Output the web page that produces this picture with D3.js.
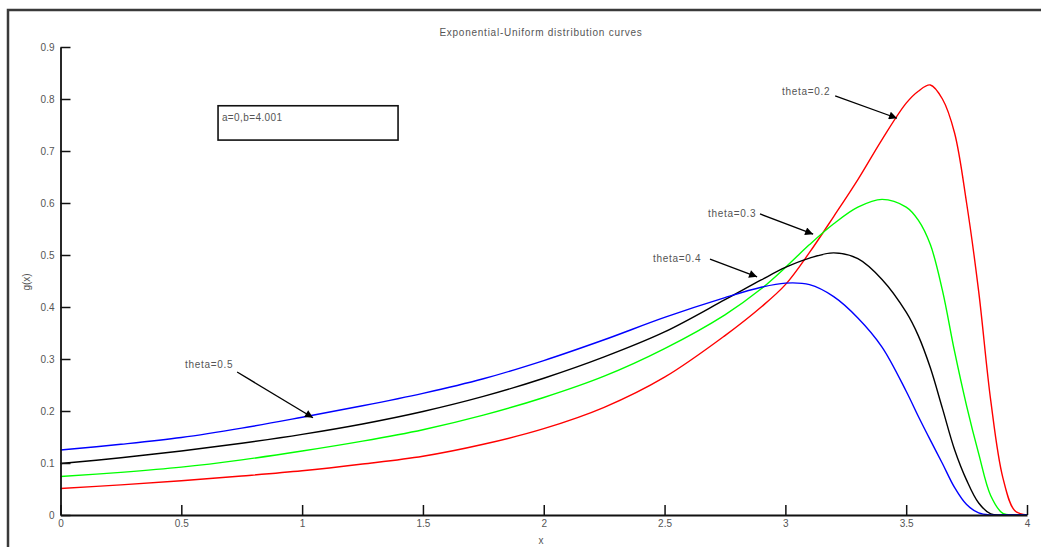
<!DOCTYPE html>
<html>
<head>
<meta charset="utf-8">
<script src="https://cdn.jsdelivr.net/npm/d3@7"></script>
<style>
  html, body { margin: 0; padding: 0; background: #fff; }
  svg { display: block; }
  text { font-family: "Liberation Sans", Arial, sans-serif; }
</style>
</head>
<body>
<svg id="chart" width="1041" height="547"></svg>
<script>
// ---- data ----
const chartTitle = "Exponential-Uniform distribution curves";
const xLabel = "x";
const yLabel = "g(x)";
const legendText = "a=0,b=4.001";
const xTicks = [0, 0.5, 1, 1.5, 2, 2.5, 3, 3.5, 4];
const yTicks = [0, 0.1, 0.2, 0.3, 0.4, 0.5, 0.6, 0.7, 0.8, 0.9];

const xs = [0, 0.25, 0.5, 0.75, 1, 1.25, 1.5, 1.75, 2, 2.25, 2.5, 2.75, 2.9, 3.0, 3.1, 3.2, 3.3, 3.4, 3.5, 3.55, 3.6, 3.65, 3.7, 3.75, 3.8, 3.85, 3.9, 3.95, 4.0];
const theta05 = [0.125, 0.136, 0.149, 0.167, 0.188, 0.210, 0.234, 0.262, 0.297, 0.337, 0.380, 0.418, 0.438, 0.446, 0.443, 0.420, 0.379, 0.323, 0.238, 0.190, 0.144, 0.099, 0.053, 0.020, 0.004, 0, 0, 0, 0];
const theta04 = [0.099, 0.110, 0.123, 0.138, 0.155, 0.175, 0.199, 0.228, 0.263, 0.304, 0.352, 0.414, 0.452, 0.476, 0.494, 0.504, 0.493, 0.453, 0.390, 0.345, 0.283, 0.205, 0.126, 0.067, 0.023, 0.002, 0, 0, 0];
const theta03 = [0.074, 0.082, 0.092, 0.106, 0.123, 0.142, 0.164, 0.192, 0.226, 0.267, 0.320, 0.385, 0.435, 0.476, 0.520, 0.560, 0.592, 0.607, 0.592, 0.567, 0.520, 0.432, 0.315, 0.210, 0.118, 0.037, 0.003, 0, 0];
const theta02 = [0.051, 0.058, 0.066, 0.075, 0.085, 0.098, 0.113, 0.136, 0.166, 0.207, 0.265, 0.345, 0.400, 0.443, 0.505, 0.574, 0.645, 0.722, 0.792, 0.815, 0.827, 0.800, 0.735, 0.600, 0.430, 0.220, 0.072, 0.008, 0];

const seriesNames = ["theta=0.2", "theta=0.3", "theta=0.4", "theta=0.5"];
const seriesValues = [theta02, theta03, theta04, theta05];
const seriesColors = ["#ff0000", "#00ff00", "#000000", "#0000ff"];

// annotation: label, text anchor (x,y), arrow start (x,y), arrow tip (x,y) in data units
const annoLabels = ["theta=0.2", "theta=0.3", "theta=0.4", "theta=0.5"];
const annoText = [[2.986, 0.808], [2.680, 0.573], [2.452, 0.487], [0.515, 0.283]];
const annoFrom = [[3.206, 0.806], [2.895, 0.579], [2.688, 0.492], [0.731, 0.275]];
const annoTo = [[3.462, 0.763], [3.115, 0.540], [2.883, 0.458], [1.045, 0.187]];

// ---- drawing ----
const svg = d3.select("#chart");
const x = d3.scaleLinear().domain([0, 4]).range([60.5, 1027]);
const y = d3.scaleLinear().domain([0, 0.9]).range([515, 47]);

// outer frame (top and left edges visible)
svg.append("path")
  .attr("d", "M8,547 L8,10 L1041,10")
  .attr("fill", "none").attr("stroke", "#3a3a3a").attr("stroke-width", 2.5);

const textColor = "#555";

svg.append("text")
  .attr("x", 541).attr("y", 36)
  .attr("text-anchor", "middle")
  .attr("font-size", 10).attr("letter-spacing", 0.75).attr("fill", textColor)
  .text(chartTitle);

// clip so curves never dip below the baseline
svg.append("defs").append("clipPath").attr("id", "plotclip")
  .append("rect").attr("x", x(0) - 2).attr("y", y(0.9) - 5)
  .attr("width", x(4) - x(0) + 4).attr("height", y(0) - y(0.9) + 5.5);

// curves
const line = d3.line()
  .x((d, i) => x(xs[i]))
  .y(d => y(d))
  .curve(d3.curveCatmullRom.alpha(0.5));

svg.append("g").attr("clip-path", "url(#plotclip)").selectAll("path")
  .data(seriesValues)
  .join("path")
  .attr("d", d => line(d))
  .attr("fill", "none")
  .attr("stroke", (d, i) => seriesColors[i])
  .attr("stroke-width", 1.4);

// axes
const xAxis = d3.axisBottom(x).tickValues(xTicks).tickSizeInner(-10).tickSizeOuter(0).tickPadding(5)
  .tickFormat(d3.format("~g"));
const yAxis = d3.axisLeft(y).tickValues(yTicks).tickSizeInner(-10).tickSizeOuter(0).tickPadding(6)
  .tickFormat(d3.format("~g"));

const gx = svg.append("g").attr("transform", `translate(0,${y(0)})`).call(xAxis);
const gy = svg.append("g").attr("transform", `translate(${x(0)},0)`).call(yAxis);
[gx, gy].forEach(g => {
  g.select(".domain").attr("stroke", "#111").attr("stroke-width", 1.8);
  g.selectAll(".tick line").attr("stroke", "#111").attr("stroke-width", 1.5);
  g.selectAll(".tick text").attr("fill", textColor).attr("font-size", 10)
    .attr("font-family", "Liberation Sans, Arial, sans-serif");
});

svg.append("text")
  .attr("x", 541).attr("y", 544)
  .attr("text-anchor", "middle")
  .attr("font-size", 10).attr("fill", textColor)
  .text(xLabel);

svg.append("text")
  .attr("transform", "translate(30,282) rotate(-90)")
  .attr("text-anchor", "middle")
  .attr("font-size", 10).attr("fill", textColor)
  .text(yLabel);

// legend box
svg.append("rect")
  .attr("x", x(0.652)).attr("y", y(0.787))
  .attr("width", x(1.397) - x(0.652)).attr("height", y(0.721) - y(0.787))
  .attr("fill", "none").attr("stroke", "#111").attr("stroke-width", 1.6);
svg.append("text")
  .attr("x", x(0.668)).attr("y", y(0.758))
  .attr("font-size", 10).attr("letter-spacing", 0.4).attr("fill", textColor)
  .text(legendText);

// annotations with arrows
svg.select("defs").append("marker")
  .attr("id", "arrowhead")
  .attr("viewBox", "0 0 10 10")
  .attr("refX", 10).attr("refY", 5)
  .attr("markerWidth", 11).attr("markerHeight", 8)
  .attr("markerUnits", "userSpaceOnUse")
  .attr("orient", "auto")
  .append("path").attr("d", "M0,0 L10,5 L0,10 z").attr("fill", "#000");

const ann = svg.append("g");
annoLabels.forEach((lab, i) => {
  ann.append("text")
    .attr("x", x(annoText[i][0])).attr("y", y(annoText[i][1]))
    .attr("font-size", 10).attr("letter-spacing", 0.7).attr("fill", textColor)
    .text(lab);
  ann.append("line")
    .attr("x1", x(annoFrom[i][0])).attr("y1", y(annoFrom[i][1]))
    .attr("x2", x(annoTo[i][0])).attr("y2", y(annoTo[i][1]))
    .attr("stroke", "#000").attr("stroke-width", 1.3)
    .attr("marker-end", "url(#arrowhead)");
});
</script>
</body>
</html>
